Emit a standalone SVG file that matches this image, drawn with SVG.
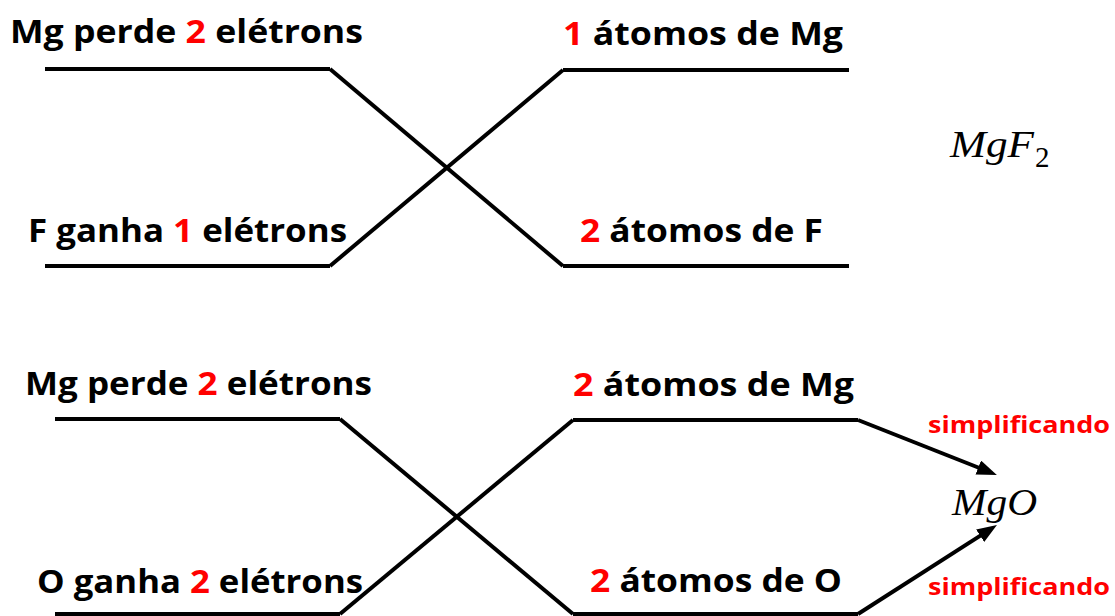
<svg xmlns="http://www.w3.org/2000/svg" width="1115" height="616" viewBox="0 0 1115 616">
<style>
.lbl{font-family:"Open Sans","Liberation Sans",sans-serif;font-weight:bold;font-size:32px;fill:#000}
.red{fill:#FF0000}
.simp{font-family:"Open Sans","Liberation Sans",sans-serif;font-weight:bold;font-size:24px;fill:#FF0000}
.math{font-family:"Liberation Serif","DejaVu Serif",serif;font-style:italic;font-size:37px;fill:#000}
.sub{font-family:"Liberation Serif","DejaVu Serif",serif;font-size:29px;fill:#000}
.bar{stroke:#000;stroke-width:4;fill:none}
.con{stroke:#000;stroke-width:4;fill:none}
</style>
<defs>
<marker id="ah" markerUnits="userSpaceOnUse" markerWidth="22" markerHeight="16" refX="4" refY="7.5" orient="auto">
<path d="M0,0 L20,7.5 L0,15 z" fill="#000"/>
</marker>
</defs>
<rect width="1115" height="616" fill="#fff"/>
<g id="top-mg-perde">
<text class="lbl" x="10" y="43" textLength="353" lengthAdjust="spacingAndGlyphs">Mg perde <tspan class="red">2</tspan> elétrons</text>
<line class="bar" x1="45" y1="69" x2="330" y2="69"/>
</g>
<g id="top-atomos-mg">
<text class="lbl" x="563" y="45" textLength="280" lengthAdjust="spacingAndGlyphs"><tspan class="red">1</tspan> átomos de Mg</text>
<line class="bar" x1="563" y1="70" x2="849" y2="70"/>
</g>
<g id="top-f-ganha">
<text class="lbl" x="28" y="242" textLength="319" lengthAdjust="spacingAndGlyphs">F ganha <tspan class="red">1</tspan> elétrons</text>
<line class="bar" x1="45" y1="266" x2="330" y2="266"/>
</g>
<g id="top-atomos-f">
<text class="lbl" x="580" y="242" textLength="243" lengthAdjust="spacingAndGlyphs"><tspan class="red">2</tspan> átomos de F</text>
<line class="bar" x1="563" y1="266" x2="849" y2="266"/>
</g>
<g id="mgf2">
<text class="math" x="950" y="157" textLength="84" lengthAdjust="spacingAndGlyphs">MgF</text>
<text class="sub" x="1035" y="167">2</text>
</g>
<g id="bot-mg-perde">
<text class="lbl" x="25" y="395" textLength="347" lengthAdjust="spacingAndGlyphs">Mg perde <tspan class="red">2</tspan> elétrons</text>
<line class="bar" x1="55" y1="419" x2="340" y2="419"/>
</g>
<g id="bot-atomos-mg">
<text class="lbl" x="573" y="396" textLength="281" lengthAdjust="spacingAndGlyphs"><tspan class="red">2</tspan> átomos de Mg</text>
<line class="bar" x1="573" y1="420" x2="858" y2="420"/>
</g>
<g id="bot-o-ganha">
<text class="lbl" x="37" y="593" textLength="326" lengthAdjust="spacingAndGlyphs">O ganha <tspan class="red">2</tspan> elétrons</text>
<line class="bar" x1="55" y1="614" x2="340" y2="614"/>
</g>
<g id="bot-atomos-o">
<text class="lbl" x="590" y="592" textLength="252" lengthAdjust="spacingAndGlyphs"><tspan class="red">2</tspan> átomos de O</text>
<line class="bar" x1="573" y1="614" x2="858" y2="614"/>
</g>
<g id="mgo">
<text class="math" x="952" y="515" textLength="85" lengthAdjust="spacingAndGlyphs">MgO</text>
</g>
<g id="simp-top">
<text class="simp" x="928" y="433" textLength="182" lengthAdjust="spacingAndGlyphs">simplificando</text>
</g>
<g id="simp-bot">
<text class="simp" x="928" y="595" textLength="182" lengthAdjust="spacingAndGlyphs">simplificando</text>
</g>
<g id="connectors">
<line class="con" x1="330" y1="69" x2="563" y2="266"/>
<line class="con" x1="563" y1="70" x2="330" y2="266"/>
<line class="con" x1="340" y1="419" x2="573" y2="614"/>
<line class="con" x1="573" y1="420" x2="340" y2="614"/>
<line class="con" x1="858" y1="420" x2="982" y2="469" marker-end="url(#ah)"/>
<line class="con" x1="858" y1="614" x2="983.5" y2="533.6" marker-end="url(#ah)"/>
</g>
</svg>
